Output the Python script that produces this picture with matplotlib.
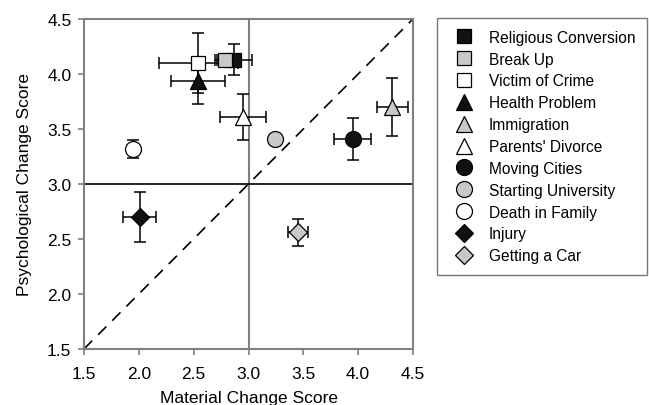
import matplotlib.pyplot as plt
import numpy as np

plt.rcParams['font.family'] = ['Liberation Sans', 'DejaVu Sans']

# events
events = ["Religious Conversion", "Break Up", "Victim of Crime", "Health Problem",
          "Immigration", "Parents' Divorce", "Moving Cities", "Starting University",
          "Death in Family", "Injury", "Getting a Car"]
material = [2.87, 2.79, 2.54, 2.54, 4.31, 2.95, 3.95, 3.24, 1.95, 2.01, 3.45]
psych = [4.13, 4.13, 4.10, 3.94, 3.70, 3.61, 3.41, 3.41, 3.32, 2.70, 2.56]
material_err = [0.16, 0.10, 0.36, 0.25, 0.14, 0.21, 0.17, 0.0, 0.0, 0.15, 0.09]
psych_err = [0.14, 0.0, 0.27, 0.21, 0.26, 0.21, 0.19, 0.0, 0.08, 0.23, 0.12]

markers = ['s', 's', 's', '^', '^', '^', 'o', 'o', 'o', 'D', 'D']
fills = ['#111111', '#c8c8c8', 'white', '#111111', '#c8c8c8', 'white',
         '#111111', '#c8c8c8', 'white', '#111111', '#c8c8c8']
sizes = [10.5, 10.5, 10.5, 11.5, 11.5, 11.5, 11.5, 11.5, 11.5, 9.5, 9.5]

fig = plt.figure(figsize=(6.49, 4.06), dpi=100)
ax = fig.add_axes([0.1294, 0.138, 0.507, 0.8128])

ax.plot([1.5, 4.5], [1.5, 4.5], color='black', linestyle=(0, (7, 5)), lw=1.2, zorder=1)
ax.axvline(3.0, color='#808080', lw=1.5, zorder=1)
ax.axhline(3.0, color='black', lw=1.2, zorder=1)

handles = []
for i in range(len(events)):
    ax.errorbar(material[i], psych[i], xerr=material_err[i] or None,
                yerr=psych_err[i] or None, fmt='none', ecolor='black',
                elinewidth=1.1, capsize=4, capthick=1.1, zorder=2)
    h, = ax.plot(material[i], psych[i], marker=markers[i], markersize=sizes[i],
                 markerfacecolor=fills[i], markeredgecolor='black',
                 markeredgewidth=0.9, linestyle='none', zorder=3, label=events[i])
    handles.append(h)

ax.set_xlim(1.5, 4.5)
ax.set_ylim(1.5, 4.5)
ticks = np.arange(1.5, 4.51, 0.5)
ax.set_xticks(ticks)
ax.set_yticks(ticks)
ax.set_xticklabels([f"{t:.1f}" for t in ticks], fontsize=12.5)
ax.set_yticklabels([f"{t:.1f}" for t in ticks], fontsize=12.5)
ax.tick_params(direction='out', length=4, color='#808080', width=1.2)
ax.tick_params(axis='x', pad=8)
ax.tick_params(axis='y', pad=5)
for s in ax.spines.values():
    s.set_color('#808080')
    s.set_linewidth(1.5)
ax.set_xlabel("Material Change Score", fontsize=12.5, labelpad=7)
ax.set_ylabel("Psychological Change Score", fontsize=12.5, labelpad=11)

leg = fig.legend(handles=handles, loc='upper left', bbox_to_anchor=(0.6733, 0.953),
                 fontsize=11.2, frameon=True, fancybox=False, edgecolor='#555555',
                 handletextpad=0.6, labelspacing=0.44, borderpad=0.75,
                 handlelength=2.0, borderaxespad=0)
leg.get_frame().set_linewidth(1.0)

fig.savefig("out.png", dpi=100)
